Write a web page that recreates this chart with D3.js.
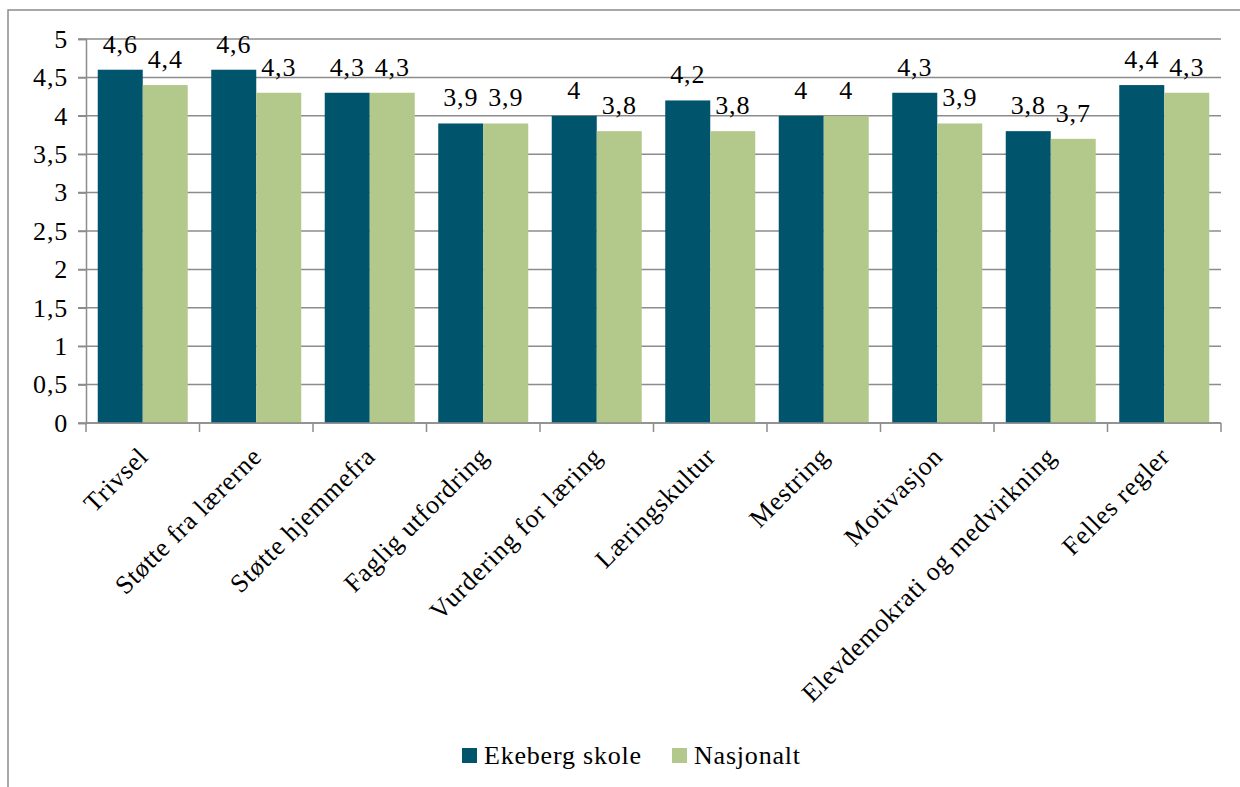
<!DOCTYPE html>
<html>
<head>
<meta charset="utf-8">
<script src="https://cdn.jsdelivr.net/npm/d3@7"></script>
<style>
  body { margin: 0; background: #fff; }
  svg text { font-family: "Liberation Serif", "DejaVu Serif", serif !important; fill: #000; }
</style>
</head>
<body>
<script>
// kategorier og verdier
var categories = ["Trivsel", "Støtte fra lærerne", "Støtte hjemmefra", "Faglig utfordring",
  "Vurdering for læring", "Læringskultur", "Mestring", "Motivasjon",
  "Elevdemokrati og medvirkning", "Felles regler"];
var seriesNames = ["Ekeberg skole", "Nasjonalt"];
var ekeberg = [4.6, 4.6, 4.3, 3.9, 4.0, 4.2, 4.0, 4.3, 3.8, 4.4];
var nasjonalt = [4.4, 4.3, 4.3, 3.9, 3.8, 3.8, 4.0, 3.9, 3.7, 4.3];
var yTicks = [0, 0.5, 1, 1.5, 2, 2.5, 3, 3.5, 4, 4.5, 5];
var colors = ["#00546c", "#b3c98b"];

var width = 1240, height = 787;
var plotLeft = 86, plotRight = 1221, plotTop = 39, plotBottom = 423;
var fontSize = "26px", spacing = "0.8px", serif = "'Liberation Serif', 'DejaVu Serif', serif";

var svg = d3.select("body").append("svg").attr("width", width).attr("height", height)
  .style("font-family", serif);

// ramme rundt diagrammet
svg.append("rect")
  .attr("x", 8).attr("y", 10).attr("width", 1300).attr("height", 900)
  .attr("fill", "none").attr("stroke", "#8c8c8c").attr("stroke-width", 1.5);

var fmt = function (d) { return String(d).replace(".", ","); };

var x = d3.scaleBand().domain(categories).range([plotLeft, plotRight])
  .paddingInner(0.207).paddingOuter(0.1035);
var xs = d3.scaleBand().domain(seriesNames).range([0, x.bandwidth()]);
var y = d3.scaleLinear().domain([0, 5]).range([plotBottom, plotTop]);

// rutenett
svg.append("g").selectAll("line")
  .data(yTicks)
  .enter()
  .append("line")
  .attr("x1", plotLeft - 8).attr("x2", plotRight)
  .attr("y1", function (d) { return y(d); })
  .attr("y2", function (d) { return y(d); })
  .attr("stroke", "#8c8c8c").attr("stroke-width", 1.5);

// y-akse
var yAxis = svg.append("g").attr("transform", "translate(" + plotLeft + ",0)")
  .call(d3.axisLeft(y).tickValues(yTicks).tickFormat(fmt).tickSize(8).tickPadding(10));
yAxis.attr("font-family", null).attr("font-size", null);
yAxis.select(".domain").attr("stroke", "#8c8c8c").attr("stroke-width", 1.5);
yAxis.selectAll(".tick line").attr("stroke", "#8c8c8c").attr("stroke-width", 1.5);
yAxis.selectAll("text").attr("fill", "#000")
  .style("font-size", fontSize).style("letter-spacing", spacing)
  .style("font-family", serif);

// stolper
var rows = categories.map(function (c, i) {
  return { cat: c, vals: [ekeberg[i], nasjonalt[i]] };
});
var groups = svg.append("g").selectAll("g")
  .data(rows)
  .enter()
  .append("g")
  .attr("transform", function (d) { return "translate(" + x(d.cat) + ",0)"; });

groups.selectAll("rect")
  .data(function (d) { return d.vals.map(function (v, j) { return { s: seriesNames[j], v: v, j: j }; }); })
  .enter()
  .append("rect")
  .attr("x", function (d) { return xs(d.s); })
  .attr("y", function (d) { return y(d.v); })
  .attr("width", xs.bandwidth())
  .attr("height", function (d) { return y(0) - y(d.v); })
  .attr("fill", function (d) { return colors[d.j]; });

groups.selectAll("text")
  .data(function (d) { return d.vals.map(function (v, j) { return { s: seriesNames[j], v: v }; }); })
  .enter()
  .append("text")
  .attr("x", function (d) { return xs(d.s) + xs.bandwidth() / 2; })
  .attr("y", function (d) { return y(d.v) - 17; })
  .attr("text-anchor", "middle")
  .style("font-family", serif)
  .style("font-size", fontSize).style("letter-spacing", spacing)
  .text(function (d) { return fmt(d.v); });

// x-akse
var xAxis = svg.append("g").attr("transform", "translate(0," + plotBottom + ")");
xAxis.append("line").attr("x1", plotLeft).attr("x2", plotRight)
  .attr("stroke", "#8c8c8c").attr("stroke-width", 1.5);
xAxis.selectAll("line.tk")
  .data(d3.range(categories.length + 1))
  .enter()
  .append("line")
  .attr("class", "tk")
  .attr("x1", function (i) { return plotLeft + i * x.step(); })
  .attr("x2", function (i) { return plotLeft + i * x.step(); })
  .attr("y1", 0).attr("y2", 9)
  .attr("stroke", "#8c8c8c").attr("stroke-width", 1.5);
xAxis.selectAll("text")
  .data(categories)
  .enter()
  .append("text")
  .attr("text-anchor", "end")
  .attr("transform", function (d) {
    return "translate(" + (x(d) + x.bandwidth() / 2 + 7) + ",35) rotate(-45)";
  })
  .style("font-family", serif)
  .style("font-size", fontSize).style("letter-spacing", spacing)
  .text(function (d) { return d; });

// tegnforklaring
var legendX = [462, 672];
var legend = svg.append("g").selectAll("g")
  .data(seriesNames)
  .enter()
  .append("g")
  .attr("transform", function (d, i) { return "translate(" + legendX[i] + ",748)"; });
legend.append("rect").attr("width", 15).attr("height", 15)
  .attr("fill", function (d, i) { return colors[i]; });
legend.append("text").attr("x", 22).attr("y", 16)
  .style("font-family", serif)
  .style("font-size", fontSize).style("letter-spacing", spacing)
  .text(function (d) { return d; });
</script>
</body>
</html>
